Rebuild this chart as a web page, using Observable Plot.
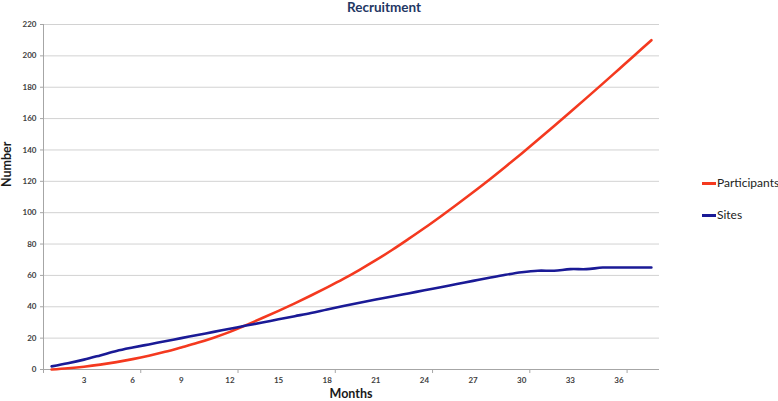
<!DOCTYPE html>
<html>
<head>
<meta charset="utf-8">
<script src="https://cdn.jsdelivr.net/npm/d3@7"></script>
<script src="https://cdn.jsdelivr.net/npm/@observablehq/plot@0.6"></script>
<style>
  html, body { margin: 0; padding: 0; background: #fff; }
  #wrap { position: relative; width: 778px; height: 401px; overflow: hidden; font-family: Lato, "Open Sans", sans-serif; }
  #wrap svg { position: absolute; left: 0; top: 0; }
  .ov { position: absolute; white-space: nowrap; }
  .title { left: 0; width: 768px; text-align: center; top: 0px; line-height: 14px; font-weight: bold; font-size: 13.5px; color: #1f3864; }
  .xlab { left: 43px; width: 616px; text-align: center; top: 387px; line-height: 14px; font-weight: bold; font-size: 12.5px; color: #1a1a1a; }
  .ylab { left: 0px; top: 139px; height: 50px; width: 14px; line-height: 14px; text-align: center; writing-mode: vertical-rl; transform: rotate(180deg); font-weight: bold; font-size: 12.5px; color: #1a1a1a; }
  .leg { left: 702px; font-size: 12px; line-height: 14px; color: #222; display: flex; align-items: center; }
  .leg span.sw { display: inline-block; width: 14px; height: 0; border-top: 3px solid; margin-right: 1px; }
</style>
</head>
<body>
<div id="wrap"></div>
<script>
// ---- data ----
const months = [1,2,3,4,5,6,7,8,9,10,11,12,13,14,15,16,17,18,19,20,21,22,23,24,25,26,27,28,29,30,31,32,33,34,35,36,37,38];
const participants = [0,0.8,1.8,3.1,4.7,6.6,8.8,11.3,14.1,17,20.3,24,28.3,32.8,37.4,42.2,47.2,52.4,57.8,63.6,69.7,76.2,83.1,90.2,97.6,105.2,113,121,129.3,137.8,146.5,155.3,164.2,173.2,182.3,191.5,200.7,210];
const sites = [2,4,6.3,9,11.8,14,16,18,20,22,24,26,28,30,32,34,36,38.3,40.5,42.6,44.6,46.5,48.5,50.5,52.5,54.5,56.5,58.5,60.4,62,63,63,64,64,65,65,65,65];
const seriesNames = ["Participants", "Sites"];
const seriesColors = ["#f4391f", "#1a1a96"];
const xTickLabels = [3,6,9,12,15,18,21,24,27,30,33,36];
const xTickMarks = [0.5,6.5,12.5,18.5,24.5,30.5,36.5];
const yTicks = [0,20,40,60,80,100,120,140,160,180,200,220];
const titleText = "Recruitment";
const xLabel = "Months";
const yLabel = "Number";

const rows = [];
months.forEach((m, i) => {
  rows.push({month: m, value: participants[i], series: seriesNames[0]});
  rows.push({month: m, value: sites[i], series: seriesNames[1]});
});

const chart = Plot.plot({
  width: 778,
  height: 401,
  marginLeft: 43,
  marginRight: 119,
  marginTop: 24,
  marginBottom: 32,
  style: {fontFamily: "Lato, 'Open Sans', sans-serif", background: "transparent"},
  x: {domain: [0.5, 38.5], axis: null},
  y: {domain: [0, 220], axis: null},
  color: {domain: seriesNames, range: seriesColors},
  marks: [
    Plot.gridY(yTicks.filter(d => d > 0), {stroke: "#d2d2d2", strokeOpacity: 1, strokeWidth: 1}),
    Plot.ruleX([0.5], {stroke: "#a6a6a6", strokeWidth: 1}),
    Plot.ruleY([0], {stroke: "#a6a6a6", strokeWidth: 1}),
    Plot.axisY(yTicks, {tickSize: 3, tickPadding: 4, stroke: "#a6a6a6", fill: "#404040", fontSize: 8, fontWeight: "bold", label: null}),
    Plot.axisX(xTickMarks, {tickSize: 4, tickFormat: () => "", stroke: "#a6a6a6", label: null}),
    Plot.axisX(xTickLabels, {tickSize: 0, tickPadding: 8, fill: "#404040", fontSize: 8, fontWeight: "bold", label: null}),
    Plot.line(rows, {x: "month", y: "value", z: "series", stroke: "series", curve: "catmull-rom", strokeWidth: 2.6})
  ]
});

const wrap = document.getElementById("wrap");
wrap.appendChild(chart);

function addDiv(cls, text) {
  const d = document.createElement("div");
  d.className = "ov " + cls;
  d.textContent = text;
  wrap.appendChild(d);
  return d;
}
addDiv("title", titleText);
addDiv("xlab", xLabel);
addDiv("ylab", yLabel);

const legendTops = [176, 208];
seriesNames.forEach((name, i) => {
  const d = document.createElement("div");
  d.className = "ov leg";
  d.style.top = legendTops[i] + "px";
  const sw = document.createElement("span");
  sw.className = "sw";
  sw.style.borderTopColor = seriesColors[i];
  const t = document.createElement("span");
  t.textContent = name;
  d.appendChild(sw);
  d.appendChild(t);
  wrap.appendChild(d);
});
</script>
</body>
</html>
